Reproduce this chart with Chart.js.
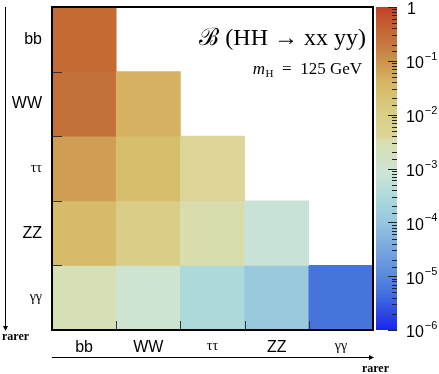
<!DOCTYPE html>
<html>
<head>
<meta charset="utf-8">
<script src="https://cdn.jsdelivr.net/npm/chart.js@4.4.1/dist/chart.umd.min.js"></script>
<style>
  html, body { margin: 0; padding: 0; background: #fff; }
  #wrap { width: 439px; height: 374px; position: relative; }
</style>
</head>
<body>
<div id="wrap"><canvas id="grafico"></canvas></div>
<script>
// HH -> xx yy branching ratios, m_H = 125 GeV (lower triangle, row = xx, col = yy)
const decays = ['bb', 'WW', 'ττ', 'ZZ', 'γγ'];
const rowBB = [0.34];
const rowWW = [0.25, 0.046];
const rowTauTau = [0.073, 0.027, 0.0039];
const rowZZ = [0.031, 0.011, 0.0033, 0.00068];
const rowGamGam = [0.0026, 0.00098, 0.00029, 0.00012, 0.0000052];
const rows = [rowBB, rowWW, rowTauTau, rowZZ, rowGamGam];

// colour bar range (powers of ten)
const cbarExponents = [0, -1, -2, -3, -4, -5, -6];

// palette: [log10(value), colour]
const cmapStops = [
  [-6.0, '#1a24ee'], [-5.3, '#4573db'], [-5.0, '#5a88de'], [-4.0, '#96c6df'],
  [-3.55, '#acd9da'], [-3.1, '#cde4d7'], [-2.5, '#d8dfb0'], [-2.4, '#ddd596'],
  [-2.0, '#dacf8a'], [-1.55, '#d6bd69'], [-1.35, '#d6b263'], [-1.15, '#cf9f55'],
  [-0.6, '#c4703a'], [-0.47, '#c46a34'], [0.0, '#c2402a']
];

function hexToRgb(h) {
  return [parseInt(h.slice(1, 3), 16), parseInt(h.slice(3, 5), 16), parseInt(h.slice(5, 7), 16)];
}
function cmap(v) {
  const l = Math.log10(v);
  if (l <= cmapStops[0][0]) return cmapStops[0][1];
  for (let i = 1; i < cmapStops.length; i++) {
    if (l <= cmapStops[i][0]) {
      const [l0, c0] = cmapStops[i - 1];
      const [l1, c1] = cmapStops[i];
      const t = (l - l0) / (l1 - l0);
      const a = hexToRgb(c0), b = hexToRgb(c1);
      const c = a.map((x, k) => Math.round(x + (b[k] - x) * t));
      return `rgb(${c[0]},${c[1]},${c[2]})`;
    }
  }
  return cmapStops[cmapStops.length - 1][1];
}

// one floating-bar dataset per row
const datasets = rows.map((vals, r) => ({
  label: decays[r],
  data: decays.map((_, c) => (c < vals.length ? [r, r + 1] : null)),
  backgroundColor: decays.map((_, c) => (c < vals.length ? cmap(vals[c]) : 'transparent')),
  borderWidth: 0,
  barPercentage: 1,
  categoryPercentage: 1,
  yAxisID: 'y'
}));

const sansFont = "'Liberation Sans', Arial, sans-serif";
const serifFont = "'Liberation Serif', 'DejaVu Serif', serif";
const isGreek = s => s === 'ττ' || s === 'γγ';
const labelFont = s => (isGreek(s) ? { family: serifFont, size: 14 } : { family: sansFont, size: 16 });

// frame, inner ticks, colour bar, arrows and text
const decor = {
  id: 'decor',
  afterDatasetsDraw(chart) {
    const { ctx, chartArea: a, scales } = chart;
    const x = scales.x, y = scales.y, z = scales.z;
    ctx.save();

    // inner ticks at cell boundaries
    ctx.strokeStyle = '#333';
    ctx.lineWidth = 1;
    for (let i = 1; i < decays.length; i++) {
      const py = Math.round(y.getPixelForValue(i)) + 0.5;
      ctx.beginPath(); ctx.moveTo(a.left, py); ctx.lineTo(a.left + 10, py); ctx.stroke();
      const px = Math.round((x.getPixelForValue(i - 1) + x.getPixelForValue(i)) / 2) + 0.5;
      ctx.beginPath(); ctx.moveTo(px, a.bottom); ctx.lineTo(px, a.bottom - 9); ctx.stroke();
    }

    // frame
    ctx.strokeStyle = '#000';
    ctx.lineWidth = 2;
    ctx.strokeRect(a.left, a.top, a.right - a.left, a.bottom - a.top);

    // colour bar
    const cbL = a.right + 3, cbR = a.right + 24;
    for (let py = Math.floor(z.top); py < z.bottom; py++) {
      ctx.fillStyle = cmap(z.getValueForPixel(py + 0.5));
      ctx.fillRect(cbL, py, cbR - cbL, 1);
    }
    ctx.strokeStyle = '#222';
    ctx.lineWidth = 1;
    z.ticks.forEach(t => {
      const py = Math.round(z.getPixelForValue(t.value)) + 0.5;
      const lg = Math.log10(t.value);
      const major = Math.abs(lg - Math.round(lg)) < 1e-6;
      const len = major ? 9 : 5;
      ctx.beginPath(); ctx.moveTo(cbR, py); ctx.lineTo(cbR - len, py); ctx.stroke();
    });

    // colour bar labels
    ctx.fillStyle = '#000';
    ctx.textBaseline = 'middle';
    ctx.textAlign = 'left';
    cbarExponents.forEach(e => {
      const py = z.getPixelForValue(Math.pow(10, e));
      const lx = cbR + 9;
      ctx.font = `16px ${sansFont}`;
      if (e === 0) {
        ctx.fillText('1', lx + 1, py + 3);
      } else {
        ctx.fillText('10', lx, py + 3);
        const w = ctx.measureText('10').width;
        ctx.font = `11px ${sansFont}`;
        ctx.fillText('−' + (-e), lx + w + 1, py - 4);
      }
    });

    // title
    ctx.textBaseline = 'alphabetic';
    ctx.textAlign = 'right';
    ctx.font = `24px ${serifFont}`;
    ctx.fillText('ℬ (HH → xx yy)', a.right - 7, a.top + 38);

    // m_H = 125 GeV
    ctx.font = `17px ${serifFont}`;
    const rest = '  =  125 GeV';
    const restW = ctx.measureText(rest).width;
    let rx = a.right - 11;
    ctx.fillText(rest, rx, a.top + 67);
    rx -= restW;
    ctx.font = `11px ${serifFont}`;
    ctx.fillText('H', rx, a.top + 70);
    rx -= ctx.measureText('H').width + 0.5;
    ctx.font = `italic 17px ${serifFont}`;
    ctx.fillText('m', rx, a.top + 67);

    // "rarer" arrows
    ctx.strokeStyle = '#000';
    ctx.fillStyle = '#000';
    ctx.lineWidth = 1;
    const ax = 5.5;
    ctx.beginPath(); ctx.moveTo(ax, a.top); ctx.lineTo(ax, a.bottom - 3); ctx.stroke();
    ctx.beginPath(); ctx.moveTo(ax - 2.5, a.bottom - 4); ctx.lineTo(ax + 2.5, a.bottom - 4); ctx.lineTo(ax, a.bottom + 1); ctx.closePath(); ctx.fill();

    const ay = a.bottom + 27.5;
    ctx.beginPath(); ctx.moveTo(a.left, ay); ctx.lineTo(a.right - 3, ay); ctx.stroke();
    ctx.beginPath(); ctx.moveTo(a.right - 4, ay - 2.5); ctx.lineTo(a.right - 4, ay + 2.5); ctx.lineTo(a.right + 1, ay); ctx.closePath(); ctx.fill();

    ctx.font = `bold 12px ${serifFont}`;
    ctx.textAlign = 'left';
    ctx.fillText('rarer', 2, a.bottom + 10);
    ctx.textAlign = 'right';
    ctx.fillText('rarer', a.right + 16, a.bottom + 42);

    ctx.restore();
  }
};

const noPad = s => { s.paddingTop = 0; s.paddingBottom = 0; s.paddingLeft = 0; s.paddingRight = 0; };

const ctx = document.getElementById('grafico').getContext('2d');
const chart = new Chart(ctx, {
  type: 'bar',
  data: { labels: decays, datasets },
  options: {
    responsive: true,
    maintainAspectRatio: false,
    animation: false,
    devicePixelRatio: 1,
    layout: { padding: { top: 7, left: 0, right: 0, bottom: 0 } },
    plugins: { legend: { display: false }, tooltip: { enabled: false } },
    scales: {
      x: {
        type: 'category',
        stacked: true,
        grid: { display: false, drawTicks: false },
        border: { display: false },
        ticks: {
          padding: 8,
          color: '#000',
          font: c => labelFont(c.tick ? c.tick.label : '')
        },
        afterFit: s => { noPad(s); s.height = 44; }
      },
      y: {
        type: 'linear',
        min: 0,
        max: decays.length,
        reverse: true,
        position: 'left',
        grid: { display: false, drawTicks: false },
        border: { display: false },
        afterBuildTicks: s => { s.ticks = decays.map((_, i) => ({ value: i + 0.5 })); },
        ticks: {
          padding: 10,
          color: '#000',
          callback: v => decays[Math.floor(v)],
          font: c => labelFont(c.tick ? decays[Math.floor(c.tick.value)] : '')
        },
        afterFit: s => { noPad(s); s.width = 52; }
      },
      z: {
        type: 'logarithmic',
        position: 'right',
        min: Math.pow(10, cbarExponents[cbarExponents.length - 1]),
        max: Math.pow(10, cbarExponents[0]),
        grid: { display: false, drawTicks: false },
        border: { display: false },
        ticks: { display: false, autoSkip: false },
        afterFit: s => { noPad(s); s.width = 66; }
      }
    }
  },
  plugins: [decor]
});
</script>
</body>
</html>
